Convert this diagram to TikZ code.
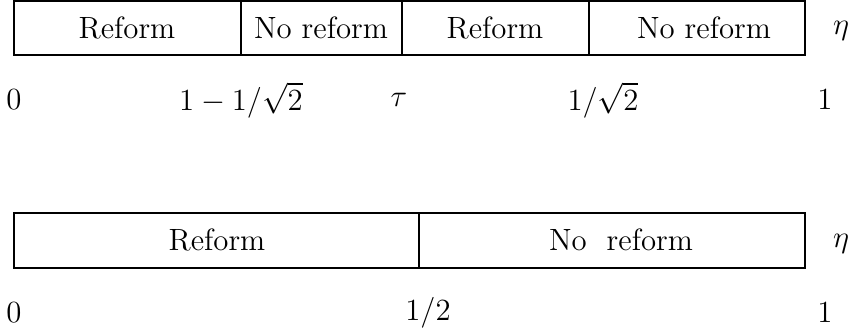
\documentclass[tikz,border=0pt]{standalone}
\begin{document}
\begin{tikzpicture}[
    x=0.0137cm, y=-0.0137cm,
    bar/.style={draw, semithick},
    seglabel/.style={font=\large, anchor=center},
    ticklabel/.style={font=\large, anchor=center}
]
    \useasboundingbox (0,0) rectangle (855,331);

    % Upper partition of eta
    \draw[bar] (14,1) rectangle (805,55);
    \foreach \xd in {241,402,589}
        \draw[bar] (\xd,1) -- (\xd,55);
    \node[seglabel] (r1) at (127,28) {Reform};
    \node[seglabel] (n1) at (321,28) {No reform};
    \node[seglabel] (r2) at (495,28) {Reform};
    \node[seglabel] (n2) at (704,28) {No reform};
    \node[seglabel] (eta1) at (841,31) {$\eta$};

    % Upper ticks
    \node[ticklabel] (a0) at (14,100) {$0$};
    \node[ticklabel] (a1) at (241,100) {$1-1/\sqrt{2}$};
    \node[ticklabel] (a2) at (399,100) {$\tau$};
    \node[ticklabel] (a3) at (603,100) {$1/\sqrt{2}$};
    \node[ticklabel] (a4) at (825,100) {$1$};

    % Lower partition of eta
    \draw[bar] (14,213) rectangle (805,268);
    \draw[bar] (419,213) -- (419,268);
    \node[seglabel] (r3) at (217,240) {Reform};
    \node[seglabel] (n3) at (621,240) {No\ \ reform};
    \node[seglabel] (eta2) at (841,244) {$\eta$};

    % Lower ticks
    \node[ticklabel] (b0) at (14,313) {$0$};
    \node[ticklabel] (b1) at (428,313) {$1/2$};
    \node[ticklabel] (b2) at (825,313) {$1$};
\end{tikzpicture}
\end{document}
